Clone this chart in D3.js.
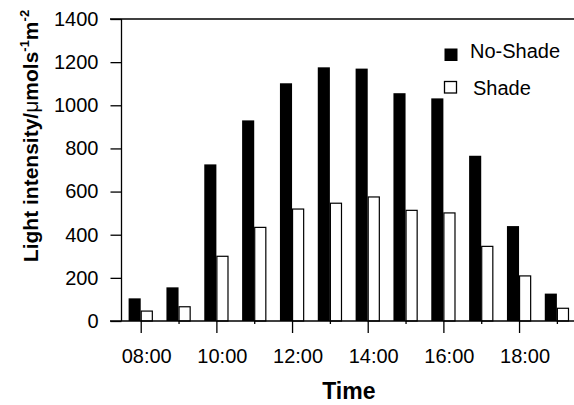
<!DOCTYPE html>
<html><head><meta charset="utf-8">
<script src="https://cdn.jsdelivr.net/npm/d3@7"></script>
<style>
html,body{margin:0;padding:0;background:#fff;}
text{font-family:Arial,"Liberation Sans",sans-serif;}
</style></head>
<body><svg id="c" width="574" height="405"></svg>
<script>
const hours = [8,9,10,11,12,13,14,15,16,17,18,19];
const noShade = [105,156,726,930,1102,1176,1170,1056,1032,766,440,127];
const shade = [46,66,300,434,519,546,575,513,501,346,209,59];
const yTicks = [0,200,400,600,800,1000,1200,1400];
const xMajor = [8,10,12,14,16,18];
const xMinor = [9,11,13,15,17,19];
const seriesNames = ["No-Shade","Shade"];

const svg = d3.select("#c");
const x = d3.scaleLinear().domain([7.5,19.5]).range([121.8,575.8]);
const y = d3.scaleLinear().domain([0,1400]).range([321,19]);
const bw = x(8.32)-x(8);

// bars
svg.append("g").selectAll("rect").data(hours).join("rect")
  .attr("x", (h)=>x(h)-bw).attr("y",(h,i)=>y(noShade[i]))
  .attr("width", bw).attr("height",(h,i)=>y(0)-y(noShade[i]))
  .attr("fill","#000");
svg.append("g").selectAll("rect").data(hours).join("rect")
  .attr("x", (h)=>x(h)+0.5).attr("y",(h,i)=>y(shade[i]))
  .attr("width", bw-1).attr("height",(h,i)=>y(0)-y(shade[i]))
  .attr("fill","#fff").attr("stroke","#000").attr("stroke-width",1.2);

// y axis
const ya = svg.append("g").attr("transform","translate(121.5,0)")
  .call(d3.axisLeft(y).tickValues(yTicks).tickSize(11).tickPadding(12).tickFormat(d3.format("d")));
ya.selectAll(".tick text").attr("font-size",20).attr("fill","#000").attr("font-family","Arial, 'Liberation Sans', sans-serif");
ya.selectAll("line").attr("stroke","#000").attr("stroke-width",1.3);
ya.select(".domain").attr("stroke","#000").attr("stroke-width",1.3).attr("d","M0,19V321");

// top frame line
svg.append("line").attr("x1",110).attr("x2",574).attr("y1",y(1400)).attr("y2",y(1400))
  .attr("stroke","#000").attr("stroke-width",1.3);

// x axis
const xa = svg.append("g").attr("transform","translate(0,321)")
  .call(d3.axisBottom(x).tickValues(xMajor).tickSize(12).tickPadding(16)
    .tickFormat(d=>String(d).padStart(2,"0")+":00"));
xa.selectAll(".tick text").attr("font-size",20).attr("fill","#000").attr("dx",5.5)
  .attr("font-family","Arial, 'Liberation Sans', sans-serif");
xa.selectAll("line").attr("stroke","#000").attr("stroke-width",1.3);
xa.select(".domain").attr("stroke","#000").attr("stroke-width",1.3).attr("d","M110,0H575");
const xm = svg.append("g").attr("transform","translate(0,321)")
  .call(d3.axisBottom(x).tickValues(xMinor).tickSize(3).tickFormat(""));
xm.select(".domain").remove();
xm.selectAll("line").attr("stroke","#000").attr("stroke-width",1.3);

// axis titles
svg.append("text").attr("x",x(13.5)).attr("y",399).attr("text-anchor","middle")
  .attr("font-size",23).attr("font-weight","bold").text("Time");
const yl = svg.append("text").attr("transform","translate(38,136) rotate(-90)")
  .attr("text-anchor","middle").attr("font-size",21).attr("font-weight","bold");
yl.append("tspan").text("Light intensity/");
yl.append("tspan").attr("font-weight","normal").text("μ");
yl.append("tspan").text("mols");
yl.append("tspan").attr("font-size",13).attr("dy",-9).text("-1");
yl.append("tspan").attr("dy",9).text("m");
yl.append("tspan").attr("font-size",13).attr("dy",-9).text("-2");

// legend
const lg = svg.append("g");
seriesNames.forEach((n,i)=>{
  const yy = 48.5 + i*32.5;
  lg.append("rect").attr("x",444.5).attr("y",yy+(i?0.5:0)).attr("width",i?12:13).attr("height",i?11.5:12.5)
    .attr("fill",i?"#fff":"#000").attr("stroke",i?"#000":"none").attr("stroke-width",1.3);
  lg.append("text").attr("x",i?473:470).attr("y",58.3+i*36.5).attr("font-size",20).text(n);
});
</script></body></html>
